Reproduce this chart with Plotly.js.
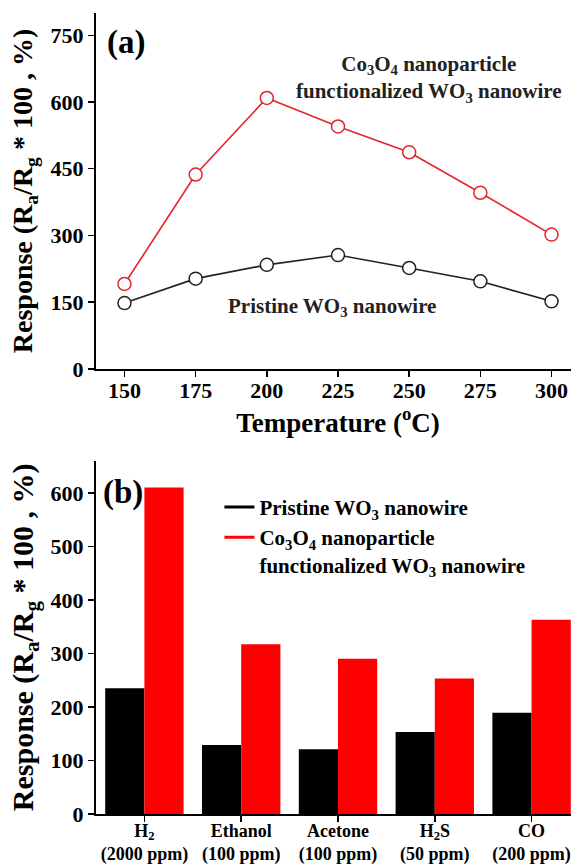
<!DOCTYPE html>
<html>
<head>
<meta charset="utf-8">
<script src="https://cdn.plot.ly/plotly-3.0.1.min.js"></script>
<style>
html, body { margin: 0; padding: 0; overflow: hidden; background: #fff; }
#chart { width: 600px; height: 864px; }
</style>
</head>
<body>
<div id="chart"></div>
<script>
// Panel (a): response vs temperature
const temperatures = [150, 175, 200, 225, 250, 275, 300];
const pristineResp = [148, 203, 234, 256, 227, 197, 152];
const co3o4Resp = [191, 437, 609, 545, 487, 396, 302];

// Panel (b): response to different gases
const gasLabels = ["H<sub>2</sub><br>(2000 ppm)", "Ethanol<br>(100 ppm)", "Acetone<br>(100 ppm)", "H<sub>2</sub>S<br>(50 ppm)", "CO<br>(200 ppm)"];
const gasIndex = [0, 1, 2, 3, 4];
const pristineGas = [235, 129, 121, 153, 189];
const co3o4Gas = [610, 317, 290, 253, 363];

const tempTicks = [150, 175, 200, 225, 250, 275, 300];
const respTicksA = [0, 150, 300, 450, 600, 750];
const respTicksB = [0, 100, 200, 300, 400, 500, 600];

const pristineName = "Pristine WO<sub>3</sub> nanowire";
const co3o4Name = "Co<sub>3</sub>O<sub>4</sub> nanoparticle<br>functionalized WO<sub>3</sub> nanowire";

const FONT = '"Liberation Serif", "Times New Roman", serif';
const RED_LINE = "#e3262b";
const BLACK_LINE = "#222222";

const traces = [
  {
    x: temperatures, y: pristineResp, type: "scatter", mode: "lines+markers",
    xaxis: "x", yaxis: "y", showlegend: false, name: pristineName,
    line: { color: BLACK_LINE, width: 1.6 },
    marker: { symbol: "circle", size: 13, color: "#ffffff", line: { color: BLACK_LINE, width: 1.5 } }
  },
  {
    x: temperatures, y: co3o4Resp, type: "scatter", mode: "lines+markers",
    xaxis: "x", yaxis: "y", showlegend: false, name: co3o4Name,
    line: { color: RED_LINE, width: 1.6 },
    marker: { symbol: "circle", size: 13, color: "#ffffff", line: { color: RED_LINE, width: 1.5 } }
  },
  {
    x: gasIndex, y: pristineGas, type: "bar", xaxis: "x2", yaxis: "y2",
    marker: { color: "#000000" }, showlegend: false, name: pristineName
  },
  {
    x: gasIndex, y: co3o4Gas, type: "bar", xaxis: "x2", yaxis: "y2",
    marker: { color: "#ff0000" }, showlegend: false, name: co3o4Name
  },
  // legend keys (line style) for panel (b): a single point draws no line segment
  {
    x: [gasIndex[0]], y: [0], type: "scatter", mode: "lines", xaxis: "x2", yaxis: "y2",
    name: pristineName, line: { color: "#000000", width: 3 }, showlegend: true
  },
  {
    x: [gasIndex[0]], y: [0], type: "scatter", mode: "lines", xaxis: "x2", yaxis: "y2",
    name: co3o4Name, line: { color: "#ff0000", width: 3 }, showlegend: true
  }
];

const tickFont = { family: FONT, size: 22, color: "#000", weight: "bold" };
const axisCommon = {
  showline: true, linecolor: "#000", linewidth: 2,
  ticks: "outside", ticklen: 6, tickwidth: 1.5, tickcolor: "#000",
  showgrid: false, zeroline: false, tickfont: tickFont
};

const layout = {
  width: 600, height: 864,
  margin: { l: 96, r: 20, t: 13, b: 50 },
  paper_bgcolor: "#ffffff", plot_bgcolor: "#ffffff",
  font: { family: FONT, color: "#000" },
  barmode: "group", bargap: 0.19, bargroupgap: 0,
  showlegend: true,
  xaxis: Object.assign({}, axisCommon, {
    domain: [0, 1], anchor: "y", range: [140, 310], automargin: true,
    tickvals: tempTicks, ticktext: tempTicks.map(String), ticklabelstandoff: -5,
    title: { text: "Temperature (<sup>o</sup>C)", font: { family: FONT, size: 27, weight: "bold", color: "#000" }, standoff: 0 }
  }),
  xaxis3: {
    overlaying: "x", side: "top", anchor: "y", range: [140, 310],
    tickvals: tempTicks, showticklabels: false, ticks: "inside", ticklen: 6, tickwidth: 1.5,
    tickcolor: "#000", showline: true, linecolor: "#000", linewidth: 2, showgrid: false, zeroline: false
  },
  yaxis: Object.assign({}, axisCommon, {
    domain: [0.5556, 1], anchor: "x", range: [0, 800], mirror: true,
    tickvals: respTicksA, ticktext: respTicksA.map(String),
    title: { text: "Response (R<sub>a</sub>/R<sub>g</sub> * 100 , %)", font: { family: FONT, size: 28, weight: "bold", color: "#000" }, standoff: 10 }
  }),
  xaxis2: Object.assign({}, axisCommon, {
    domain: [0, 1], anchor: "y2", range: [-0.5, 4.5],
    tickvals: gasIndex, ticktext: gasLabels, ticklabelstandoff: -7,
    tickfont: { family: FONT, size: 18, color: "#000", weight: "bold" }
  }),
  xaxis4: {
    overlaying: "x2", side: "top", anchor: "y2", range: [-0.5, 4.5],
    tickvals: gasIndex, showticklabels: false, ticks: "inside", ticklen: 6, tickwidth: 1.5,
    tickcolor: "#000", showline: true, linecolor: "#000", linewidth: 2, showgrid: false, zeroline: false
  },
  yaxis2: Object.assign({}, axisCommon, {
    domain: [0, 0.4411], anchor: "x2", range: [0, 660], mirror: true,
    tickvals: respTicksB, ticktext: respTicksB.map(String),
    title: { text: "Response (R<sub>a</sub>/R<sub>g</sub> * 100 , %)", font: { family: FONT, size: 30, weight: "bold", color: "#000" }, standoff: 8 }
  }),
  legend: {
    x: 0.255, y: 0.4085, xanchor: "left", yanchor: "top",
    bgcolor: "rgba(0,0,0,0)", borderwidth: 0,
    font: { family: FONT, size: 21, color: "#000", weight: "bold" },
    valign: "top", itemwidth: 30, tracegroupgap: 0
  },
  annotations: [
    { text: "(a)", xref: "x domain", yref: "y domain", x: 0.018, y: 0.916, xanchor: "left", yanchor: "middle",
      showarrow: false, font: { family: FONT, size: 33, weight: "bold", color: "#000" } },
    { text: "(b)", xref: "x2 domain", yref: "y2 domain", x: 0.01, y: 0.911, xanchor: "left", yanchor: "middle",
      showarrow: false, font: { family: FONT, size: 33, weight: "bold", color: "#000" } },
    { text: "Co<sub>3</sub>O<sub>4</sub> nanoparticle<br>functionalized WO<sub>3</sub> nanowire",
      xref: "x domain", yref: "y domain", x: 0.688, y: 0.815, xanchor: "center", yanchor: "middle", align: "center",
      showarrow: false, font: { family: FONT, size: 21, weight: "bold", color: "#222" } },
    { text: "Pristine WO<sub>3</sub> nanowire",
      xref: "x domain", yref: "y domain", x: 0.488, y: 0.175, xanchor: "center", yanchor: "middle",
      showarrow: false, font: { family: FONT, size: 21, weight: "bold", color: "#222" } }
  ]
};

Plotly.newPlot("chart", traces, layout, { staticPlot: true, displayModeBar: false });
</script>
</body>
</html>
